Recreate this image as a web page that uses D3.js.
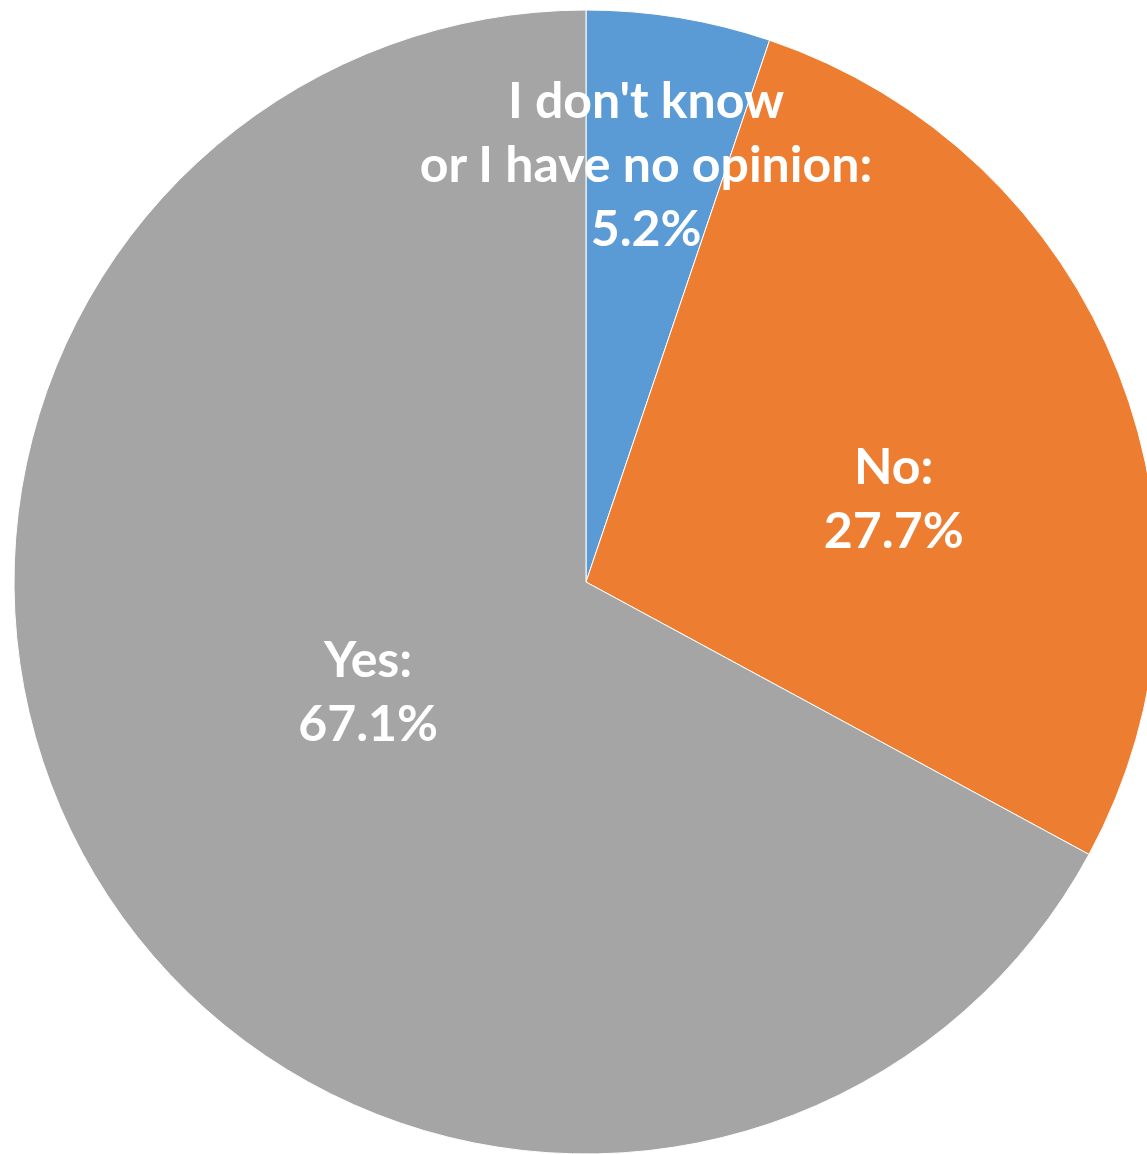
<!DOCTYPE html>
<html><head><meta charset="utf-8">
<script src="https://cdn.jsdelivr.net/npm/d3@7"></script>
<style>html,body{margin:0;padding:0;background:#fff;overflow:hidden}</style>
</head><body>
<svg id="c" width="1147" height="1154"></svg>
<script>
const categories = ["I don't know or I have no opinion", "No", "Yes"];
const labelLines = [["I don't know", "or I have no opinion:"], ["No:"], ["Yes:"]];
const values = [5.2, 27.7, 67.1];
const colors = ["#5B9BD5", "#ED7D31", "#A5A5A5"];

const W = 1147, H = 1154;
const cx = 586, cy = 582, R = 572;
// label anchor offsets (relative to center, fraction of radius) — layout only
const labelPos = [[0.105, -0.728], [0.538, -0.144], [-0.381, 0.194]];

const svg = d3.select("#c");
const g = svg.append("g").attr("transform", `translate(${cx},${cy})`);
const data = categories.map((c, i) => ({c, v: values[i], i}));
const pie = d3.pie().sort(null).value(d => d.v);
const arc = d3.arc().innerRadius(0).outerRadius(R);
const color = d3.scaleOrdinal().domain(categories).range(colors);

g.selectAll("path").data(pie(data)).join("path")
  .attr("d", arc).attr("fill", d => color(d.data.c))
  .attr("stroke", "#fff").attr("stroke-width", 1);

const fs = 50, lh = 64;
const lab = g.selectAll("text.lab").data(pie(data)).join("text")
  .attr("class", "lab")
  .attr("text-anchor", "middle")
  .attr("fill", "#fff")
  .attr("font-family", "Lato, 'Open Sans', sans-serif")
  .attr("font-weight", "bold")
  .attr("font-size", fs);
lab.each(function(d) {
  const i = d.data.i;
  const lines = labelLines[i].concat([values[i].toFixed(1) + "%"]);
  const x = labelPos[i][0] * R, y = labelPos[i][1] * R;
  const y0 = y - (lines.length - 1) * lh / 2;
  const t = d3.select(this);
  lines.forEach((l, k) => {
    t.append("tspan").attr("x", x).attr("y", y0 + k * lh).attr("dy", "0.33em").text(l);
  });
});
</script>
</body></html>
